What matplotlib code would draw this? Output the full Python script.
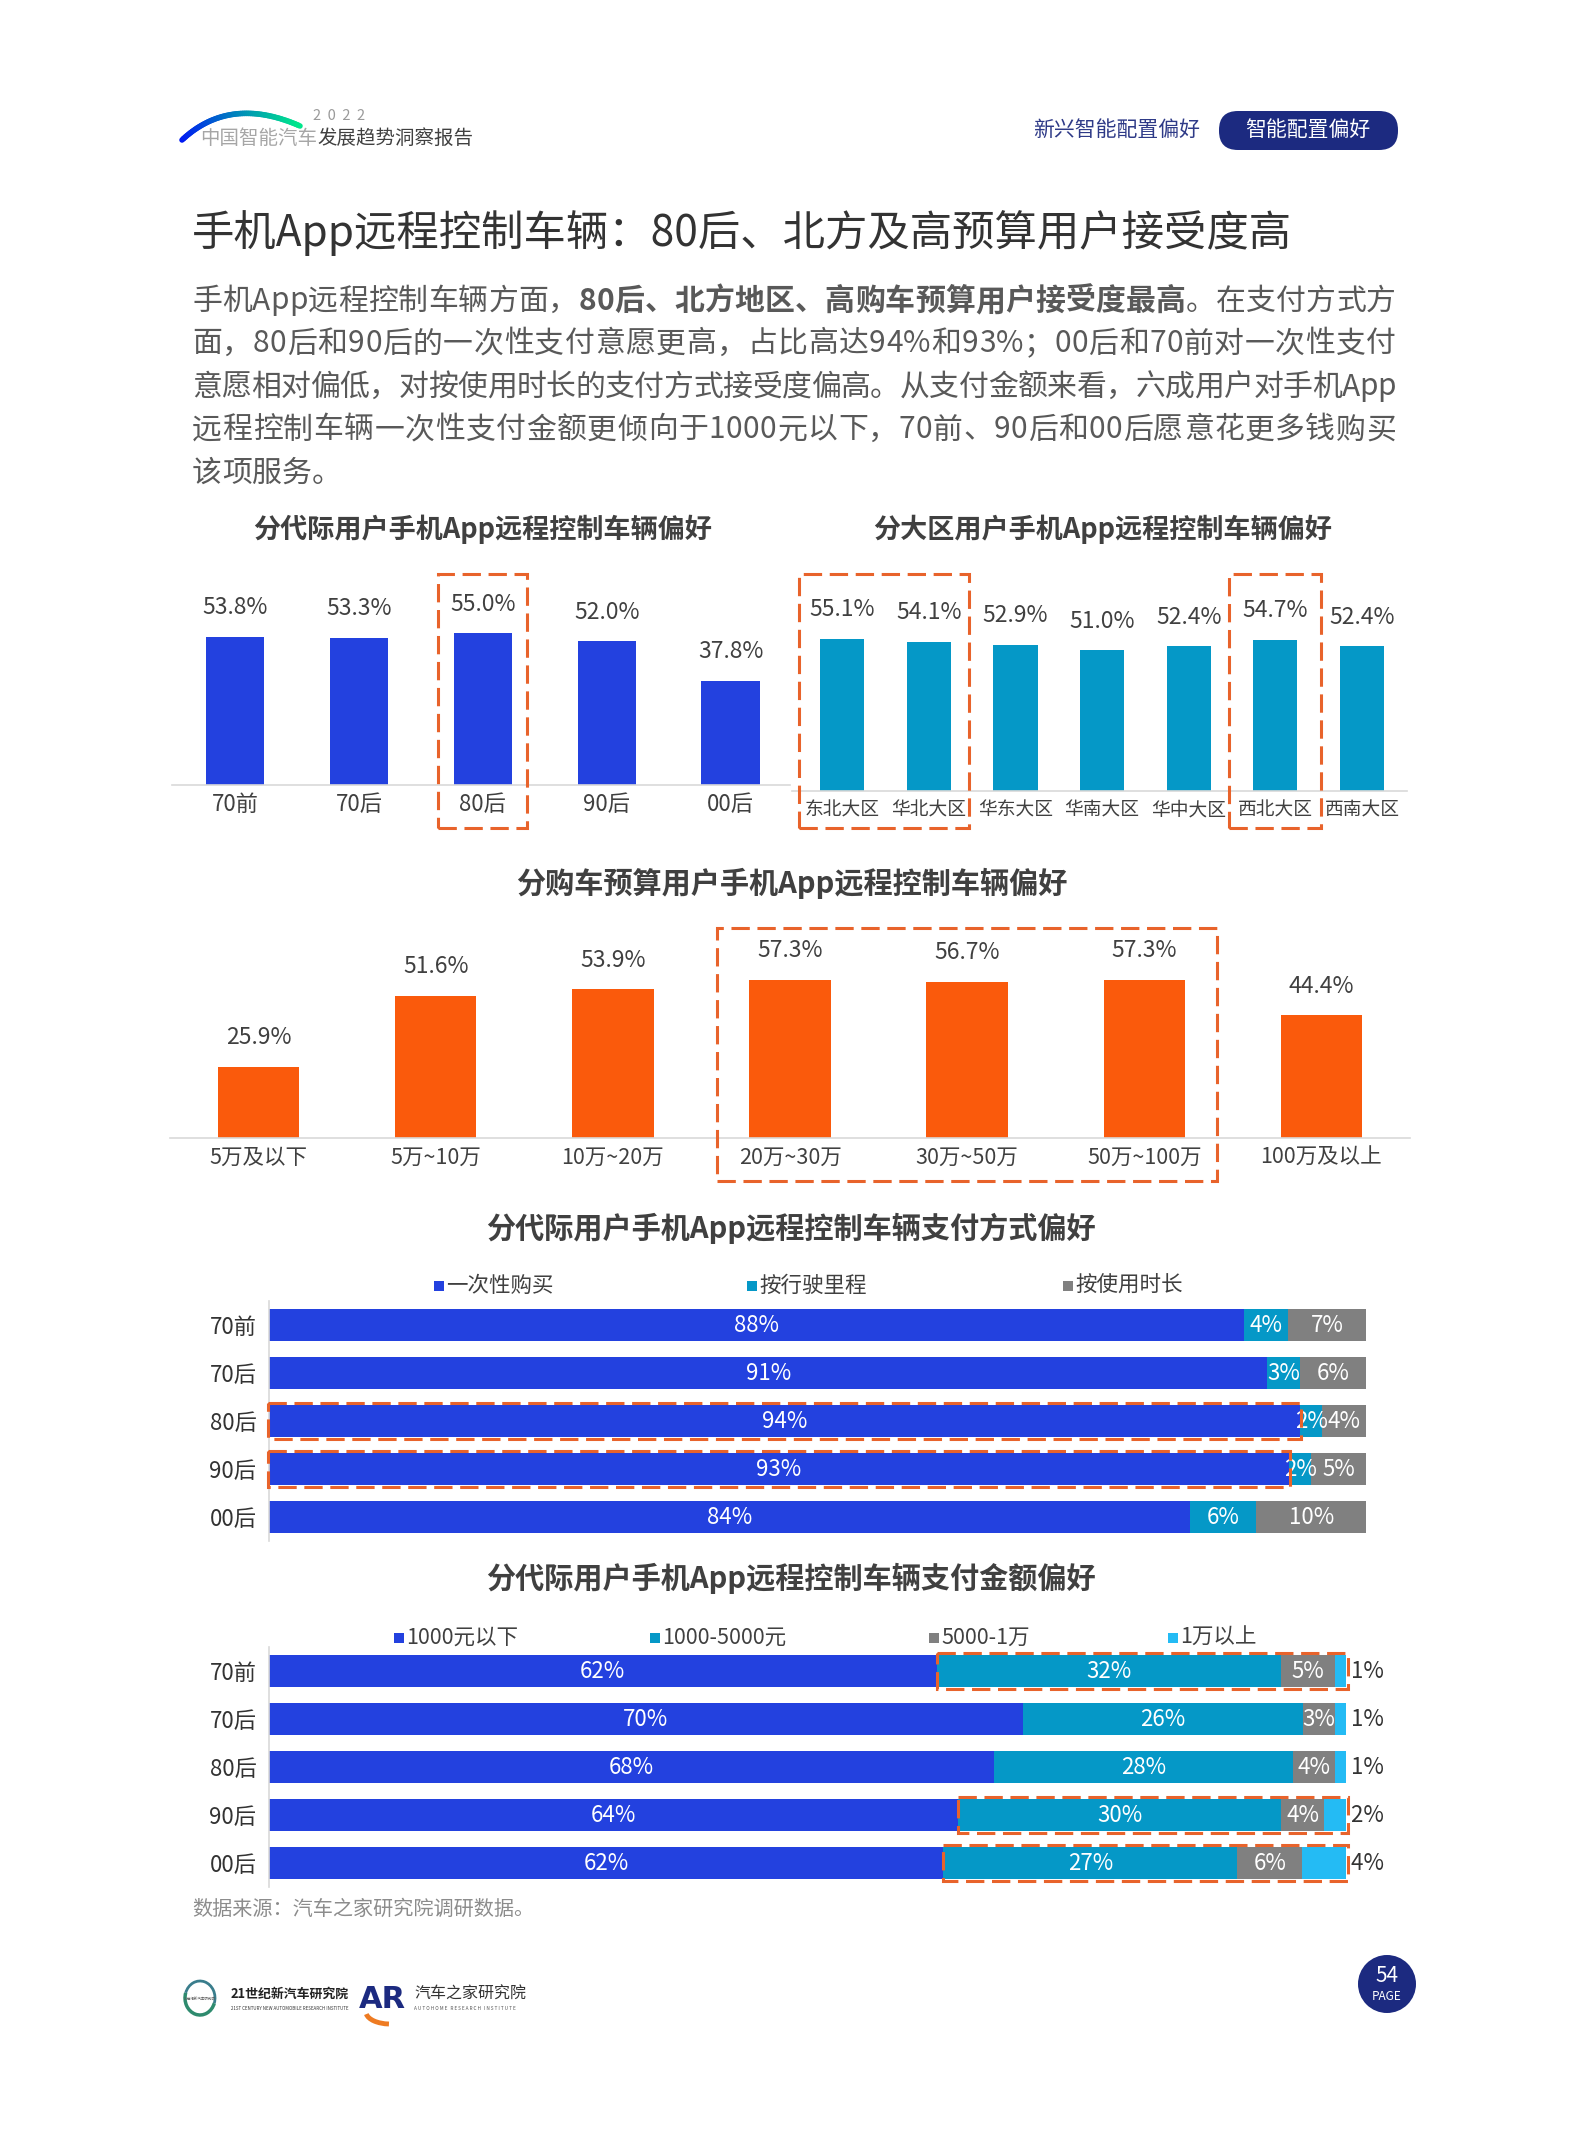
import matplotlib
matplotlib.use('Agg')
import matplotlib.pyplot as plt
from matplotlib.patches import Rectangle, Circle, FancyBboxPatch, Arc
from matplotlib.collections import LineCollection
import numpy as np

plt.rcParams['font.family'] = ['Noto Sans CJK SC', 'DejaVu Sans']

# ---------------- data ----------------
gen_labels = ['70前', '70后', '80后', '90后', '00后']
gen_pref = [53.8, 53.3, 55.0, 52.0, 37.8]

region_labels = ['东北大区', '华北大区', '华东大区', '华南大区', '华中大区', '西北大区', '西南大区']
region_pref = [55.1, 54.1, 52.9, 51.0, 52.4, 54.7, 52.4]

budget_labels = ['5万及以下', '5万~10万', '10万~20万', '20万~30万', '30万~50万', '50万~100万', '100万及以上']
budget_pref = [25.9, 51.6, 53.9, 57.3, 56.7, 57.3, 44.4]

pay_series = ['一次性购买', '按行驶里程', '按使用时长']
pay_once = [88, 91, 94, 93, 84]
pay_mileage = [4, 3, 2, 2, 6]
pay_time = [7, 6, 4, 5, 10]

amt_series = ['1000元以下', '1000-5000元', '5000-1万', '1万以上']
amt_lt1000 = [62, 70, 68, 64, 62]
amt_1000_5000 = [32, 26, 28, 30, 27]
amt_5000_1w = [5, 3, 4, 4, 6]
amt_gt1w = [1, 1, 1, 2, 4]

# ---------------- style ----------------
BLUE = '#2341DF'
TEAL = '#0598C7'
ORANGE = '#FA5A0C'
GRAY = '#808080'
LBLUE = '#24BBF4'
NAVY = '#1C2A80'
DASH = '#E8632B'
TXT = '#404040'
AXIS = '#D9D9D9'
DASH_LS = (0, (6, 2.5))

W, H = 1586, 2154
fig = plt.figure(figsize=(W / 100, H / 100), dpi=100)
renderer = fig.canvas.get_renderer()

# full-page overlay in pixel coords (y down)
ax0 = fig.add_axes([0, 0, 1, 1])
ax0.set_xlim(0, W)
ax0.set_ylim(H, 0)
ax0.axis('off')


def px_axes(x0, y0, x1, y1):
    return fig.add_axes([x0 / W, 1 - y1 / H, (x1 - x0) / W, (y1 - y0) / H])


def text_w(s, **kw):
    tt = ax0.text(0, 0, s, **kw)
    w = tt.get_window_extent(renderer).width
    tt.remove()
    return w


def vbar(ax, labels, vals, color, width, pad_l, pad_r, top, lab_size):
    x = np.arange(len(vals))
    ax.bar(x, vals, width=width, color=color, zorder=2)
    ax.set_xlim(-pad_l, len(vals) - 1 + pad_r)
    ax.set_ylim(0, top)
    for s in ['top', 'right', 'left']:
        ax.spines[s].set_visible(False)
    ax.spines['bottom'].set_color(AXIS)
    ax.spines['bottom'].set_linewidth(1.2)
    ax.set_yticks([])
    ax.set_xticks(x, labels, fontsize=lab_size, color=TXT)
    ax.tick_params(axis='x', length=0, pad=6)
    ax.patch.set_alpha(0)
    for xi, v in zip(x, vals):
        ax.annotate(f'{v:.1f}%', (xi, v), xytext=(0, 21), textcoords='offset points',
                    ha='center', va='center', fontsize=16.5, color=TXT)
    return x


def dash_box(ax, x0, x1, y0, y1):
    ax.add_patch(Rectangle((x0, y0), x1 - x0, y1 - y0, fill=False, ec=DASH, lw=2.2,
                           ls=DASH_LS, clip_on=False, zorder=5))


# ---------------- header ----------------
t = np.linspace(0, 1, 60)
p0, p1, p2 = np.array([182, 140]), np.array([230, 95]), np.array([300, 126])
curve = ((1 - t) ** 2)[:, None] * p0 + (2 * (1 - t) * t)[:, None] * p1 + (t ** 2)[:, None] * p2
segs = np.stack([curve[:-1], curve[1:]], axis=1)
cols = plt.get_cmap('winter')(np.linspace(0.1, 0.9, len(segs)))
ax0.add_collection(LineCollection(segs, colors=cols, linewidths=4, capstyle='round'))
ax0.text(313, 116, '2  0  2  2', fontsize=10.5, color='#9A9A9A', va='center', ha='left')
w1 = text_w('中国智能汽车', fontsize=14)
ax0.text(200, 138, '中国智能汽车', fontsize=14, color='#A6A6A6', va='center', ha='left')
ax0.text(200 + w1, 138, '发展趋势洞察报告', fontsize=14, color=TXT, va='center', ha='left')

ax0.text(1033, 130, '新兴智能配置偏好', fontsize=15, color='#2E3A87', va='center', ha='left')
ax0.add_patch(FancyBboxPatch((1219, 111), 179, 39, boxstyle='round,pad=0,rounding_size=19',
                             fc=NAVY, ec='none'))
ax0.text(1308, 130, '智能配置偏好', fontsize=15, color='white', va='center', ha='center')

# ---------------- title & body ----------------
ax0.text(192, 233, '手机App远程控制车辆：80后、北方及高预算用户接受度高', fontsize=30.5,
         color='#333333', va='center', ha='left')

body = [
    [('手机App远程控制车辆方面，', False), ('80后、北方地区、高购车预算用户接受度最高', True),
     ('。在支付方式方', False)],
    [('面，80后和90后的一次性支付意愿更高，占比高达94%和93%；00后和70前对一次性支付', False)],
    [('意愿相对偏低，对按使用时长的支付方式接受度偏高。从支付金额来看，六成用户对手机App', False)],
    [('远程控制车辆一次性支付金额更倾向于1000元以下，70前、90后和00后愿意花更多钱购买', False)],
    [('该项服务。', False)],
]
BODY_FS = 21.5
x_left, x_right = 192, 1396
for i, parts in enumerate(body):
    y = 301 + i * 43
    chars = [(c, b) for s, b in parts for c in s]
    widths = [text_w(c, fontsize=BODY_FS, weight='bold' if b else 'normal') for c, b in chars]
    justify = i < len(body) - 1
    gap = (x_right - x_left - sum(widths)) / (len(chars) - 1) if justify else 0
    x = x_left
    for (c, b), w in zip(chars, widths):
        ax0.text(x, y, c, fontsize=BODY_FS, color='#595959', va='center', ha='left',
                 weight='bold' if b else 'normal')
        x += w + gap

# ---------------- chart 1: generation ----------------
ax0.text(483, 529, '分代际用户手机App远程控制车辆偏好', fontsize=19.5, weight='bold',
         color=TXT, va='center', ha='center')
ax1 = px_axes(172, 585, 790, 785)
x1 = vbar(ax1, gen_labels, gen_pref, BLUE, 0.47, 0.51, 0.48, 200 / 2.76, 16)
hi = 2
dash_box(ax1, x1[hi] - 0.36, x1[hi] + 0.36, -15.6, 76.4)

# ---------------- chart 2: region ----------------
ax0.text(1103, 529, '分大区用户手机App远程控制车辆偏好', fontsize=19.5, weight='bold',
         color=TXT, va='center', ha='center')
ax2 = px_axes(792, 591, 1407, 791)
x2 = vbar(ax2, region_labels, region_pref, TEAL, 0.51, 0.58, 0.52, 200 / 2.76, 13.5)
dash_box(ax2, x2[0] - 0.5, x2[1] + 0.46, -13.4, 78.6)
dash_box(ax2, x2[5] - 0.53, x2[5] + 0.53, -13.4, 78.6)

# ---------------- chart 3: budget ----------------
ax0.text(792, 883, '分购车预算用户手机App远程控制车辆偏好', fontsize=21, weight='bold',
         color=TXT, va='center', ha='center')
ax3 = px_axes(170, 938, 1410, 1138)
x3 = vbar(ax3, budget_labels, budget_pref, ORANGE, 0.46, 0.5, 0.5, 200 / 2.76, 15.5)
dash_box(ax3, x3[3] - 0.41, x3[5] + 0.41, -15.6, 76.1)


# ---------------- stacked horizontal bars ----------------
def hstack(ax, rows, series_vals, colors, outside_last=False):
    data = np.array(series_vals, dtype=float)
    share = data / data.sum(axis=0) * 100
    y = np.arange(len(rows))
    left = np.zeros(len(rows))
    edges = [left.copy()]
    for k in range(len(data)):
        ax.barh(y, share[k], left=left, height=0.67, color=colors[k], zorder=2)
        for yi in y:
            v = data[k, yi]
            if outside_last and k == len(data) - 1:
                ax.text(100, yi, f' {v:.0f}%', ha='left', va='center', fontsize=16, color='#333333')
            else:
                ax.text(left[yi] + share[k, yi] / 2, yi, f'{v:.0f}%', ha='center', va='center',
                        fontsize=16, color='white', zorder=3)
        left = left + share[k]
        edges.append(left.copy())
    ax.set_xlim(0, 100)
    ax.set_ylim(len(rows) - 0.5, -0.5)
    for s in ['top', 'right', 'bottom']:
        ax.spines[s].set_visible(False)
    ax.spines['left'].set_color(AXIS)
    ax.spines['left'].set_linewidth(1.2)
    ax.set_xticks([])
    ax.set_yticks(y, rows, fontsize=16, color='#333333')
    ax.tick_params(axis='y', length=0, pad=9)
    ax.patch.set_alpha(0)
    return y, edges


def legend_row(xs, y, labels, colors):
    for x, lab, c in zip(xs, labels, colors):
        ax0.add_patch(Rectangle((x, y - 5), 10, 10, fc=c, ec='none'))
        ax0.text(x + 12, y, lab, fontsize=15.5, color=TXT, va='center', ha='left')


# chart 4: payment method
ax0.text(791, 1228, '分代际用户手机App远程控制车辆支付方式偏好', fontsize=21, weight='bold',
         color=TXT, va='center', ha='center')
pay_colors = [BLUE, TEAL, GRAY]
legend_row([434, 747, 1063], 1286, pay_series, pay_colors)
ax4 = px_axes(269, 1301, 1366, 1541)
y4, e4 = hstack(ax4, gen_labels, [pay_once, pay_mileage, pay_time], pay_colors)
for r in [2, 3]:
    dash_box(ax4, -0.1, e4[1][r] + 0.1, r - 0.37, r + 0.37)

# chart 5: payment amount
ax0.text(791, 1578, '分代际用户手机App远程控制车辆支付金额偏好', fontsize=21, weight='bold',
         color=TXT, va='center', ha='center')
amt_colors = [BLUE, TEAL, GRAY, LBLUE]
legend_row([394, 650, 929, 1168], 1638, amt_series, amt_colors)
ax5 = px_axes(269, 1647, 1346, 1887)
y5, e5 = hstack(ax5, gen_labels, [amt_lt1000, amt_1000_5000, amt_5000_1w, amt_gt1w],
                amt_colors, outside_last=True)
for r in [0, 3, 4]:
    dash_box(ax5, e5[1][r], 100.2, r - 0.37, r + 0.37)

ax0.text(192, 1909, '数据来源：汽车之家研究院调研数据。', fontsize=14.5, color='#8C8C8C',
         va='center', ha='left')

# ---------------- footer ----------------
ax0.add_patch(Arc((200, 1998), 30, 34, theta1=20, theta2=200, color='#2E8B6E', lw=2.5))
ax0.add_patch(Arc((200, 1998), 30, 34, theta1=200, theta2=380, color='#3A7D8C', lw=2))
ax0.text(200, 1999, '21世纪新汽车研究院', fontsize=2.5, color='#555555', ha='center', va='center')
ax0.text(231, 1994, '21世纪新汽车研究院', fontsize=9.3, weight='bold', color='#222222',
         va='center', ha='left')
ax0.text(231, 2009, '21ST CENTURY NEW AUTOMOBILE RESEARCH INSTITUTE', fontsize=3.2,
         color='#333333', va='center', ha='left')
ax0.text(359, 2000, 'AR', fontsize=22, weight='bold', color=NAVY, va='center', ha='left',
         family='DejaVu Sans')
ax0.add_patch(Arc((390, 2012), 48, 24, theta1=95, theta2=175, color='#EE7B22', lw=3.5))
ax0.text(414, 1994, '汽车之家研究院', fontsize=11.5, color='#333333', va='center', ha='left')
ax0.text(414, 2009, 'A U T O H O M E   R E S E A R C H   I N S T I T U T E', fontsize=3.4,
         color='#555555', va='center', ha='left')

ax0.add_patch(Circle((1387, 1984), 29, fc=NAVY, ec='none'))
ax0.text(1387, 1976, '54', fontsize=15, color='white', ha='center', va='center')
ax0.text(1387, 1997, 'PAGE', fontsize=8.5, color='white', ha='center', va='center')

fig.savefig('out.png', dpi=100, facecolor='white')
